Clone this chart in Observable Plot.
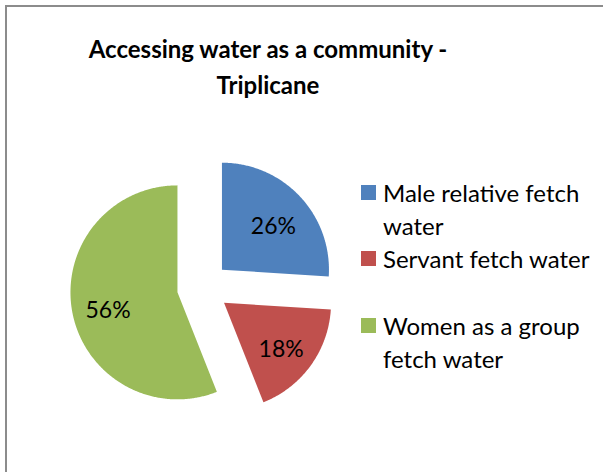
<!DOCTYPE html>
<html>
<head>
<meta charset="utf-8">
<script src="https://cdn.jsdelivr.net/npm/d3@7"></script>
<script src="https://cdn.jsdelivr.net/npm/@observablehq/plot@0.6"></script>
<style>
  html, body { margin: 0; padding: 0; background: #fff; }
  body { width: 603px; height: 472px; position: relative; overflow: hidden; font-family: Lato, "Open Sans", sans-serif; }
  #frame { position: absolute; left: 5px; top: 5px; width: 700px; height: 600px; border-top: 2px solid #8c8c8c; border-left: 2px solid #8c8c8c; }
  #chart { position: absolute; left: 0; top: 0; }
  #title { position: absolute; left: 68px; width: 400px; top: 31px; text-align: center; font-weight: bold; font-size: 24px; line-height: 36px; color: #000; }
  #legend { position: absolute; left: 361px; top: 176px; font-size: 24px; color: #000; }
  .item { position: relative; padding-left: 22px; line-height: 33px; white-space: nowrap; }
  .sw { position: absolute; left: 0; top: 9px; width: 15px; height: 15px; }
</style>
</head>
<body>
<div id="frame"></div>
<div id="chart"></div>
<div id="title"></div>
<div id="legend"></div>
<script>
// ---- data ----
const categories = ["Male relative fetch water", "Servant fetch water", "Women as a group fetch water"];
const legendLines = [["Male relative fetch", "water"], ["Servant fetch water"], ["Women as a group", "fetch water"]];
const values = [26, 18, 56];
const colors = ["#4F81BD", "#C0504D", "#9BBB59"];
const titleLines = ["Accessing water as a community -", "Triplicane"];

// ---- layout ----
const cx = 202.5, cy = 287, R = 107;
const explode = 0.243;      // as fraction of radius
const labelR = 0.66;

const arcs = d3.pie().sort(null).value(d => d.value)(categories.map((c, i) => ({name: c, value: values[i]})));

const slicePts = [];
const labels = [];
arcs.forEach(a => {
  const mid = (a.startAngle + a.endAngle) / 2;
  const ox = explode * Math.sin(mid), oy = explode * Math.cos(mid);
  slicePts.push({name: a.data.name, x: ox, y: oy});
  const n = Math.max(2, Math.ceil((a.endAngle - a.startAngle) / (Math.PI / 360)));
  for (let k = 0; k <= n; k++) {
    const t = a.startAngle + (a.endAngle - a.startAngle) * k / n;
    slicePts.push({name: a.data.name, x: ox + Math.sin(t), y: oy + Math.cos(t)});
  }
  slicePts.push({name: a.data.name, x: ox, y: oy});
  labels.push({
    name: a.data.name,
    text: Math.round(a.data.value / d3.sum(values) * 100) + "%",
    x: ox + labelR * Math.sin(mid),
    y: oy + labelR * Math.cos(mid)
  });
});

const plot = Plot.plot({
  width: 603,
  height: 472,
  margin: 0,
  x: {type: "linear", domain: [-1, 1], range: [cx - R, cx + R], axis: null},
  y: {type: "linear", domain: [-1, 1], range: [cy + R, cy - R], axis: null},
  color: {domain: categories, range: colors},
  style: {background: "transparent", fontFamily: "Lato, 'Open Sans', sans-serif"},
  marks: [
    Plot.line(slicePts, {x: "x", y: "y", z: "name", fill: "name", stroke: null, curve: "linear"}),
    Plot.text(labels, {x: "x", y: "y", text: "text", fontSize: 23, fill: "#000", dy: 5})
  ]
});
document.getElementById("chart").appendChild(plot);

document.getElementById("title").innerHTML = titleLines.map(t => `<div>${t}</div>`).join("");

const legend = document.getElementById("legend");
const gaps = [0, 0, 34];
categories.forEach((c, i) => {
  const div = document.createElement("div");
  div.className = "item";
  div.style.marginTop = gaps[i] + "px";
  div.innerHTML = `<span class="sw" style="background:${colors[i]}"></span>` + legendLines[i].map(l => `<div>${l}</div>`).join("");
  legend.appendChild(div);
});
</script>
</body>
</html>
